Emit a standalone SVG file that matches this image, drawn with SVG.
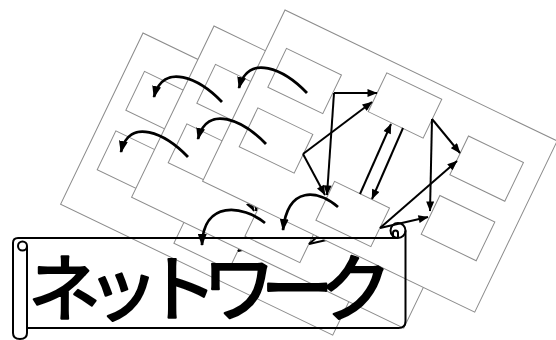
<svg xmlns="http://www.w3.org/2000/svg" width="556" height="340" viewBox="0 0 556 340">
<style>
.page{fill:#fff;stroke:#8c8c8c;stroke-width:1}
.node{fill:#fff;stroke:#8c8c8c;stroke-width:1}
.arr{fill:none;stroke:#000;stroke-width:2;marker-end:url(#ah)}
.carr{fill:none;stroke:#000;stroke-width:2.8;marker-end:url(#ahc)}
.scroll{fill:none;stroke:#000;stroke-width:2;stroke-linejoin:round}
.title{font-family:"Noto Sans CJK JP","Noto Sans CJK SC",sans-serif;font-weight:normal;font-size:73px;fill:#000;stroke:#000;stroke-width:2.2;stroke-linejoin:round}
</style>
<defs>
<marker id="ah" viewBox="0 0 10 8" refX="9.5" refY="4" markerWidth="11" markerHeight="8" markerUnits="userSpaceOnUse" orient="auto"><path d="M0,0L10,4L0,8z" fill="#000"/></marker>
<marker id="ahc" viewBox="0 0 12 9" refX="11" refY="4.5" markerWidth="12" markerHeight="9" markerUnits="userSpaceOnUse" orient="auto"><path d="M0,0L12,4.5L0,9z" fill="#000"/></marker>
</defs>

<g id="layer1" transform="translate(-142,23)">
 <g transform="translate(285,10) rotate(25.7)">
  <rect class="page" width="302" height="190"/>
  <g id="l1-n1"><rect class="node" x="18" y="34" width="61" height="43"/></g>
  <g id="l1-n2"><rect class="node" x="119" y="12.5" width="61" height="43"/></g>
  <g id="l1-n3"><rect class="node" x="220" y="34" width="61" height="43"/></g>
  <g id="l1-n4"><rect class="node" x="18" y="100" width="61" height="43"/></g>
  <g id="l1-n5"><rect class="node" x="119" y="133" width="61" height="43"/></g>
  <g id="l1-n6"><rect class="node" x="220" y="100" width="61" height="43"/></g>
 </g>
 <g id="l1-connectors">
  <path class="arr" d="M334,93L377,93"/>
  <path class="arr" d="M334,93L327,195"/>
  <path class="arr" d="M303,154L372,102"/>
  <path class="arr" d="M303,154L325,195"/>
  <path class="arr" d="M360,194L391,124"/>
  <path class="arr" d="M403,128L372,199"/>
  <path class="arr" d="M432,119L460,153"/>
  <path class="arr" d="M432,119L430,211"/>
  <path class="arr" d="M380,228L457,161"/>
  <path class="arr" d="M380,228L428,217"/>
 </g>
</g>

<g id="layer2" transform="translate(-71,16)">
 <g transform="translate(285,10) rotate(25.7)">
  <rect class="page" width="302" height="190"/>
  <g id="l2-n1"><rect class="node" x="18" y="34" width="61" height="43"/></g>
  <g id="l2-n2"><rect class="node" x="119" y="12.5" width="61" height="43"/></g>
  <g id="l2-n3"><rect class="node" x="220" y="34" width="61" height="43"/></g>
  <g id="l2-n4"><rect class="node" x="18" y="100" width="61" height="43"/></g>
  <g id="l2-n5"><rect class="node" x="119" y="133" width="61" height="43"/></g>
  <g id="l2-n6"><rect class="node" x="220" y="100" width="61" height="43"/></g>
 </g>
 <g id="l2-connectors">
  <path class="arr" d="M334,93L377,93"/>
  <path class="arr" d="M334,93L327,195"/>
  <path class="arr" d="M303,154L372,102"/>
  <path class="arr" d="M303,154L325,195"/>
  <path class="arr" d="M360,194L391,124"/>
  <path class="arr" d="M403,128L372,199"/>
  <path class="arr" d="M432,119L460,153"/>
  <path class="arr" d="M432,119L430,211"/>
  <path class="arr" d="M380,228L457,161"/>
  <path class="arr" d="M380,228L428,217"/>
 </g>
</g>

<g id="layer3">
 <g transform="translate(285,10) rotate(25.7)">
  <rect class="page" width="302" height="190"/>
  <g id="l3-n1"><rect class="node" x="18" y="34" width="61" height="43"/></g>
  <g id="l3-n2"><rect class="node" x="119" y="12.5" width="61" height="43"/></g>
  <g id="l3-n3"><rect class="node" x="220" y="34" width="61" height="43"/></g>
  <g id="l3-n4"><rect class="node" x="18" y="100" width="61" height="43"/></g>
  <g id="l3-n5"><rect class="node" x="119" y="133" width="61" height="43"/></g>
  <g id="l3-n6"><rect class="node" x="220" y="100" width="61" height="43"/></g>
 </g>
 <g id="l3-connectors">
  <path class="arr" d="M334,93L377,93"/>
  <path class="arr" d="M334,93L327,195"/>
  <path class="arr" d="M303,154L372,102"/>
  <path class="arr" d="M303,154L325,195"/>
  <path class="arr" d="M360,194L391,124"/>
  <path class="arr" d="M403,128L372,199"/>
  <path class="arr" d="M432,119L460,153"/>
  <path class="arr" d="M432,119L430,211"/>
  <path class="arr" d="M380,228L457,161"/>
  <path class="arr" d="M380,228L428,217"/>
 </g>
</g>

<g id="cross-connectors">
 <path class="carr" d="M307,93C285,70 248,52 239,88"/>
 <path class="carr" d="M266,144C244,121 207,103 198,139"/>
 <path class="carr" d="M338,207C318,190 288,185 283,230"/>
 <path class="carr" d="M222,102C200,79 163,61 154,97"/>
 <path class="carr" d="M188,157C166,134 129,116 121,152"/>
 <path class="carr" d="M265,223C243,205 203,200 202,245"/>
</g>

<g id="banner">
 <path class="scroll" d="M13,333V243Q13,238 18,238H398"/>
 <circle class="scroll" cx="398" cy="230.5" r="7.5"/>
 <path class="scroll" d="M393,238V233A2.5,2.5 0 0 1 398,233V238"/>
 <path class="scroll" d="M405.5,230.5V321Q405.5,328 398.5,328H27"/>
 <path class="scroll" d="M13,333Q13,339 20,339Q27,339 27,333V246"/>
 <circle class="scroll" cx="22.5" cy="246" r="4.5"/>
 <text class="title" x="28" y="315" textLength="364" lengthAdjust="spacing">ネットワーク</text>
</g>
</svg>
